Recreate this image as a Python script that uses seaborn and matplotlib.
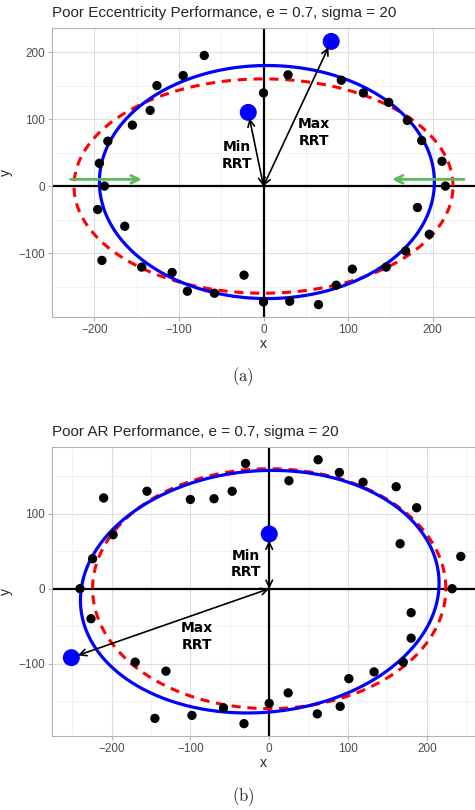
import numpy as np
import pandas as pd
import seaborn as sns
import matplotlib.pyplot as plt

# ---- panel (a): poor eccentricity ----
a_x = [-194, -188, -184, -155, -134, -126, -95, -70, 0, 29, 92, 118, 148, 170, 187, 211, 215,
       -196, -164, -191, -144, -108, -90, -58, -23, 0, 31, 65, 86, 105, 145, 168, 196, 182]
a_y = [34, 0, 67, 91, 113, 150, 165, 195, 139, 166, 158, 139, 125, 98, 68, 37, 0,
       -35, -60, -111, -121, -129, -157, -160, -133, -173, -172, -177, -148, -124, -121, -97, -72, -32]
a_rrt_x = [-18, 80]
a_rrt_y = [110, 216]
a_fit = dict(cx=4, cy=6, a=198, b=174, angle=0.0)

# ---- panel (b): poor aspect ratio ----
b_x = [-240, -224, -210, -198, -155, -100, -70, -47, -30, 25, 62, 89, 119, 161, 187, 166, 243, 232,
       -226, -170, -131, -145, -98, -58, -32, 0, 24, 61, 90, 101, 133, 170, 180, 180]
b_y = [0, 40, 121, 72, 130, 119, 120, 130, 167, 144, 172, 155, 142, 136, 108, 60, 43, 0,
       -40, -98, -110, -173, -169, -159, -180, -153, -139, -167, -157, -120, -111, -98, -66, -32]
b_rrt_x = [0, -251]
b_rrt_y = [73, -92]
b_fit = dict(cx=-12, cy=-4, a=228, b=161, angle=0.1)

# true ellipse, e = 0.7
true_a, true_b = 224, 160

plt.rcParams['mathtext.fontset'] = 'cm'
sns.set_style('whitegrid')
plt.rcParams['font.family'] = ['Liberation Sans', 'DejaVu Sans']

fig = plt.figure(figsize=(4.75, 8.1), dpi=100)


def ellipse(cx, cy, a, b, angle):
    t = np.linspace(0, 2 * np.pi, 400)
    ex = a * np.cos(t)
    ey = b * np.sin(t)
    return (cx + ex * np.cos(angle) - ey * np.sin(angle),
            cy + ex * np.sin(angle) + ey * np.cos(angle))


def panel(ax, xs, ys, rrt_x, rrt_y, fit, title, xlim, ylim, yticks):
    ax.set_xlim(*xlim)
    ax.set_ylim(*ylim)
    ax.set_xticks([-200, -100, 0, 100, 200])
    ax.set_xticks([-250, -150, -50, 50, 150, 250], minor=True)
    ax.set_yticks(yticks)
    ax.set_yticks([-150, -50, 50, 150], minor=True)
    ax.grid(True, which='major', color='#DEDEDE', lw=0.8)
    ax.grid(True, which='minor', color='#EBEBEB', lw=0.5)
    ax.set_axisbelow(True)
    for s in ax.spines.values():
        s.set_color('#B3B3B3')
        s.set_linewidth(0.8)
    ax.spines['right'].set_visible(False)
    ax.tick_params(which='major', length=3, color='#B3B3B3', labelsize=8.5,
                   labelcolor='#4D4D4D', left=True, bottom=True, pad=2)
    ax.tick_params(which='minor', length=0)

    ax.axhline(0, color='black', lw=1.6, zorder=2)
    ax.axvline(0, color='black', lw=1.6, zorder=2)

    tx, ty = ellipse(0, 0, true_a, true_b, 0)
    sns.lineplot(x=tx, y=ty, sort=False, estimator=None, ax=ax, color='#FF0000', lw=2.2,
                 linestyle=(0, (3, 2.2)), zorder=3)
    fx, fy = ellipse(**fit)
    sns.lineplot(x=fx, y=fy, sort=False, estimator=None, ax=ax, color='#0000FF', lw=2.3,
                 zorder=4)

    sns.scatterplot(x=xs, y=ys, ax=ax, color='black', s=45, edgecolor='none', zorder=5)
    sns.scatterplot(x=rrt_x, y=rrt_y, ax=ax, color='#0000FF', s=150, edgecolor='none', zorder=5)

    for px, py in zip(rrt_x, rrt_y):
        d = np.hypot(px, py)
        sx, sy = px * (d - 9) / d, py * (d - 9) / d
        ax.annotate('', xy=(sx, sy), xytext=(0, 0),
                    arrowprops=dict(arrowstyle='<->', color='black', lw=1.2,
                                    mutation_scale=12, shrinkA=0, shrinkB=0),
                    zorder=6)

    ax.set_title(title, loc='left', fontsize=11, pad=8)
    ax.set_xlabel('x', fontsize=10, labelpad=1)
    ax.set_ylabel('y', fontsize=10, labelpad=4)


ax1 = fig.add_axes([52 / 475, 1 - 317 / 810, 423 / 475, 289 / 810])
panel(ax1, a_x, a_y, a_rrt_x, a_rrt_y, a_fit,
      'Poor Eccentricity Performance, e = 0.7, sigma = 20',
      (-245, 239.5), (-195.5, 236), [-100, 0, 100, 200])
lbl = dict(fontsize=10, fontweight='bold', ha='center', va='center', color='black',
           family='DejaVu Sans', linespacing=1.25, zorder=7)
ax1.text(-31, 46, 'Min\nRRT', **lbl)
ax1.text(60, 80, 'Max\nRRT', **lbl)
for x0, x1 in [(-228, -144), (237, 152)]:
    ax1.annotate('', xy=(x1, 10), xytext=(x0, 10),
                 arrowprops=dict(arrowstyle='->', color='#5CB85C', lw=2,
                                 mutation_scale=14, shrinkA=0, shrinkB=0),
                 zorder=6)

ax2 = fig.add_axes([52 / 475, 1 - 736 / 810, 423 / 475, 289 / 810])
panel(ax2, b_x, b_y, b_rrt_x, b_rrt_y, b_fit,
      'Poor AR Performance, e = 0.7, sigma = 20',
      (-275.5, 261), (-196.5, 189), [-100, 0, 100])
ax2.text(-30, 33, 'Min\nRRT', **lbl)
ax2.text(-92, -64, 'Max\nRRT', **lbl)

fig.text(243 / 475, 1 - 377 / 810, r'$\mathrm{(a)}$', ha='center', va='center', fontsize=12)
fig.text(243 / 475, 1 - 797 / 810, r'$\mathrm{(b)}$', ha='center', va='center', fontsize=12)

fig.savefig('out.png', dpi=100)
